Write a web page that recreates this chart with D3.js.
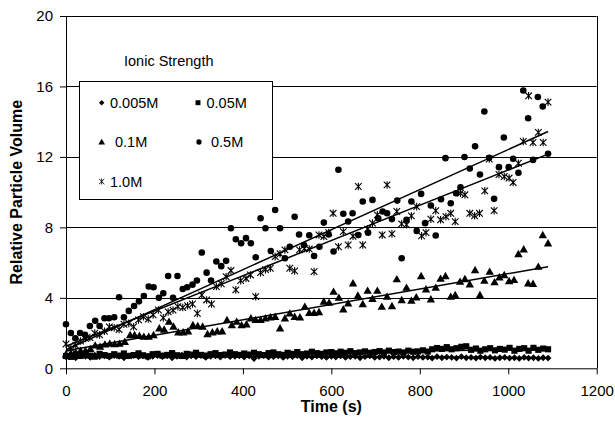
<!DOCTYPE html>
<html>
<head>
<meta charset="utf-8">
<script src="https://cdn.jsdelivr.net/npm/d3@7"></script>
<style>
  body { margin: 0; background: #fff; }
  text { font-family: Arial, "Liberation Sans", sans-serif; fill: #000; }
</style>
</head>
<body>
<script>
// sampling times for the two low ionic strength runs (s)
const gridTime = [0,11,22,33,44,55,65,76,87,98,109,120,131,142,153,164,174,185,196,207,
  218,229,240,251,262,273,283,294,305,316,327,338,349,360,371,382,392,403,414,425,
  436,447,458,469,480,491,501,512,523,534,545,556,567,578,589,600,610,621,632,643,
  654,665,676,687,698,709,719,730,741,752,763,774,785,796,807,818,828,839,850,861,
  872,883,894,905,916,927,937,948,959,970,981,992,1003,1014,1025,1036,1046,1057,1068,1079,1090];

const vol005 = [0.65,0.7,0.6,0.72,0.68,0.62,0.74,0.66,0.7,0.64,0.72,0.68,0.6,0.7,0.74,0.66,0.7,0.62,0.68,
  0.72,0.66,0.7,0.6,0.68,0.74,0.64,0.7,0.66,0.72,0.62,0.68,0.7,0.64,0.72,0.66,0.68,0.7,
  0.64,0.7,0.55,0.68,0.72,0.64,0.66,0.7,0.62,0.68,0.66,0.72,0.6,0.68,0.64,0.7,0.66,0.62,
  0.68,0.64,0.7,0.62,0.66,0.68,0.6,0.66,0.7,0.62,0.64,0.68,0.6,0.66,0.62,0.68,0.64,0.6,
  0.66,0.62,0.64,0.58,0.66,0.6,0.64,0.62,0.58,0.66,0.6,0.62,0.58,0.64,0.6,0.62,0.56,0.6,
  0.62,0.58,0.6,0.56,0.62,0.58,0.6,0.56,0.6,0.58];

const vol05 = [0.7,0.65,0.78,0.7,0.82,0.72,0.66,0.82,0.75,0.7,0.8,0.72,0.84,0.7,0.75,0.85,0.74,0.68,0.8,
  0.82,0.72,0.76,0.86,0.74,0.7,0.82,0.78,0.88,0.76,0.72,0.8,0.86,0.75,0.78,0.9,0.8,0.76,
  0.84,0.78,0.88,0.8,0.75,0.86,0.9,0.8,0.76,0.88,0.82,0.92,0.8,0.84,0.94,0.86,0.82,0.9,
  0.92,0.85,0.94,0.88,0.97,0.86,0.9,0.96,0.88,0.92,0.98,0.9,1.0,0.92,0.95,0.9,1.0,0.94,
  0.96,1.02,0.95,1.08,1.15,1.1,1.2,1.08,1.14,1.22,1.25,1.05,1.12,1.0,1.08,1.14,1.02,1.1,
  1.06,1.16,1.0,1.1,1.14,1.0,1.16,1.05,1.12,1.08];

const time1 = [0,11,22,33,44,55,66,77,88,99,110,121,133,145,155,166,176,187,198,211,
  222,233,243,254,265,276,287,298,309,320,331,342,353,364,375,386,397,408,418,429,
  440,451,462,473,484,495,506,517,529,540,550,561,572,583,595,605,617,627,638,649,
  660,671,682,693,704,714,726,737,748,759,770,781,792,803,814,825,836,847,858,870,
  880,891,902,913,925,936,946,958,969,980,991,1002,1013,1023,1035,1045,1056,1068,1078,1090];
const vol1 = [0.8,0.85,0.9,1.0,1.0,1.1,1.3,1.23,1.36,1.4, 1.38,1.4,1.51,1.89,1.89,1.85,1.8,1.8,1.89,2.27,
  2.2,2.65,2.37,2.05,2.05,2.1,2.46,2.4,2.37,1.95, 2.05,2.1,2.1,2.74,2.45,2.65,2.45,2.5,2.84,2.75,
  2.75,2.84,2.9,2.93,2.27,2.84,3.12,2.93,2.9,3.5, 3.15,3.15,3.2,3.79,3.73,4.35,4.01,3.35,3.69,4.83,
  4.13,3.65,4.41,3.95,4.41,3.5,4.07,3.54,5.06,3.88, 4.58,3.84,4.03,5.24,4.49,3.92,4.58,5.09,5.24,4.07,
  4.16,4.92,5.07,4.77,5.58,4.16,4.98,5.49,4.89,5.17, 5.3,4.96,5.02,6.49,6.76,4.83,4.8,5.77,7.57,7.1];

const time5 = [0,11,21,32,43,54,66,76,87,97,109,120,131,142,154,165,176,187,198,210,
  220,231,242,252,264,274,286,296,307,318,328,340,351,362,373,384,396,407,418,429,
  440,451,463,473,484,495,506,517,527,538,550,561,573,583,594,605,616,627,638,648,
  661,671,683,693,706,716,726,737,749,759,770,781,793,803,812,825,836,848,858,870,
  882,892,901,913,925,936,946,957,968,979,990,1001,1011,1023,1034,1045,1056,1067,1078,1090];
const vol5 = [2.5,2.0,1.7,2.0,1.9,2.4,2.7,2.4,2.84,2.84, 2.9,4.03,2.9,3.26,3.54,3.8,4.1,4.64,4.6,4.0,
  4.26,5.24,4.0,5.24,4.5,4.6,4.75,4.98,6.57,5.43, 4.98,6.06,5.8,6.1,7.95,7.33,7.1,7.39,7.1,6.3,
  8.52,7.95,6.66,8.99,7.95,6.25,6.9,8.6,7.6,7.0, 7.55,6.38,6.9,8.27,7.6,6.63,11.27,8.77,8.33,8.8,
  7.57,9.47,7.7,9.56,8.52,8.9,8.8,8.47,9.52,6.25, 8.43,9.47,7.8,9.9,8.24,9.24,7.54,9.6,11.93,9.37,
  9.94,10.28,12.0,11.34,12.6,11.0,14.58,11.95,9.62,11.42, 13.1,11.42,11.9,11.1,15.77,14.2,11.83,15.4,14.86,12.18];

const time10 = [0,11,22,33,44,54,65,76,87,98,109,120,131,142,153,164,175,186,197,209,
  220,231,242,253,264,275,286,297,307,318,329,340,351,362,373,384,395,407,417,429,
  440,451,462,473,484,495,506,517,528,539,550,561,572,583,594,604,616,627,638,649,
  661,671,682,693,704,715,726,737,748,759,770,781,793,804,814,825,836,847,859,870,
  880,892,902,913,924,935,947,957,968,979,991,1002,1011,1023,1034,1046,1056,1068,1079,1090];
const vol10 = [1.38,1.14,1.3,1.55,1.7,1.75,2.0,1.9,2.1,2.35, 2.3,2.2,2.5,2.55,2.36,2.75,2.93,2.8,3.03,3.31,
  2.86,3.2,3.3,3.5,3.45,3.55,3.65,3.12,4.16,3.88, 3.65,4.64,4.8,5.2,5.55,4.45,4.98,5.1,5.3,4.07,
  5.43,5.6,5.68,6.34,6.5,6.72,5.68,5.53,6.72,6.8, 6.77,5.49,7.57,7.48,7.7,8.8,6.9,7.76,7.0,7.5,
  10.32,7.0,7.9,8.24,8.71,7.57,10.41,7.63,8.9,8.2, 8.15,8.65,9.18,7.52,7.7,8.47,8.95,8.43,8.61,8.8,
  8.33,9.94,9.85,8.8,8.66,8.8,10.07,11.88,8.95,11.0, 10.89,10.8,10.55,11.64,12.88,15.47,12.82,13.39,12.82,15.11];

// linear trendlines, value at first and last time
const trendTime = [0, 1090];
const trendStart = [0.68, 0.72, 1.0, 1.25, 1.05];
const trendEnd = [0.6, 1.08, 5.77, 12.16, 13.44];

const seriesNames = ["0.005M", "0.05M", "0.1M", "0.5M", "1.0M"];
const xTicks = [0, 200, 400, 600, 800, 1000, 1200];
const yTicks = [0, 4, 8, 12, 16, 20];

let width = 615, height = 421;
let margin = { top: 16, right: 18.3, bottom: 52.7, left: 66 };

let svg = d3.select("body").append("svg")
  .attr("width", width)
  .attr("height", height);

const xScale = d3.scaleLinear().domain([0, 1200]).range([margin.left, width - margin.right]);
const yScale = d3.scaleLinear().domain([0, 20]).range([height - margin.bottom, margin.top]);

// markers
const r = 3.4;
const markerPath = {
  diamond: `M0,${-r}L${r},0L0,${r}L${-r},0Z`,
  square: d3.symbol(d3.symbolSquare, 38)(),
  triangle: `M0,-4.2L4.2,3.2L-4.2,3.2Z`,
  circle: d3.symbol(d3.symbolCircle, 34)(),
  star: "M-3.3,-3.3L3.3,3.3M-3.3,3.3L3.3,-3.3M0,-3.8L0,3.8"
};

const series = [
  { name: seriesNames[0], t: gridTime, v: vol005, marker: "diamond" },
  { name: seriesNames[1], t: gridTime, v: vol05, marker: "square" },
  { name: seriesNames[2], t: time1, v: vol1, marker: "triangle" },
  { name: seriesNames[3], t: time5, v: vol5, marker: "circle" },
  { name: seriesNames[4], t: time10, v: vol10, marker: "star" }
];

// gridlines
svg.append("g")
  .selectAll("line")
  .data(yTicks.filter(d => d > 0))
  .enter()
  .append("line")
  .attr("x1", margin.left)
  .attr("x2", width - margin.right)
  .attr("y1", d => Math.round(yScale(d)) + 0.5)
  .attr("y2", d => Math.round(yScale(d)) + 0.5)
  .attr("stroke", "#000")
  .attr("stroke-width", 1);

// right border
svg.append("line")
  .attr("x1", Math.round(xScale(1200)) + 0.5).attr("x2", Math.round(xScale(1200)) + 0.5)
  .attr("y1", yScale(20)).attr("y2", yScale(0))
  .attr("stroke", "#000");

// legend box
svg.append("rect")
  .attr("x", 79.5).attr("y", 81.5)
  .attr("width", 193).attr("height", 118)
  .attr("fill", "#fff")
  .attr("stroke", "#000");

// axes
svg.append("g")
  .attr("transform", `translate(${margin.left},0)`)
  .call(d3.axisLeft(yScale).tickValues(yTicks).tickSize(6).tickSizeOuter(0).tickPadding(7))
  .call(g => g.selectAll("text").style("font-size", "15px").attr("fill", "#000"))
  .call(g => g.selectAll("line,path").attr("stroke", "#000"));

svg.append("g")
  .attr("transform", `translate(0,${height - margin.bottom})`)
  .call(d3.axisBottom(xScale).tickValues(xTicks).tickFormat(d3.format("d"))
    .tickSize(6).tickSizeOuter(0).tickPadding(11))
  .call(g => g.selectAll("text").style("font-size", "15px").attr("fill", "#000"))
  .call(g => g.selectAll("line,path").attr("stroke", "#000"));

// trendlines
series.forEach(function(s, i) {
  svg.append("line")
    .attr("x1", xScale(trendTime[0])).attr("y1", yScale(trendStart[i]))
    .attr("x2", xScale(trendTime[1])).attr("y2", yScale(trendEnd[i]))
    .attr("stroke", "#000")
    .attr("stroke-width", 1.5);
});

// points
series.forEach(function(s) {
  svg.append("g")
    .selectAll("path")
    .data(s.t.map((t, j) => [t, s.v[j]]))
    .enter()
    .append("path")
    .attr("transform", d => `translate(${xScale(d[0])},${yScale(d[1])})`)
    .attr("d", markerPath[s.marker])
    .attr("fill", s.marker === "star" ? "none" : "#000")
    .attr("stroke", s.marker === "star" ? "#000" : "none")
    .attr("stroke-width", 1.1);
});

// legend contents
svg.append("text")
  .attr("x", 124).attr("y", 66)
  .style("font-size", "14.5px")
  .text("Ionic Strength");

const legendPos = [
  { mx: 101.7, my: 102.7, tx: 110, ty: 107.5 },
  { mx: 198, my: 102.7, tx: 206.5, ty: 107.5 },
  { mx: 101.7, my: 142, tx: 115, ty: 147 },
  { mx: 199, my: 142, tx: 211, ty: 147 },
  { mx: 101.7, my: 181.5, tx: 110, ty: 186.5 }
];

series.forEach(function(s, i) {
  const p = legendPos[i];
  svg.append("path")
    .attr("transform", `translate(${p.mx},${p.my}) scale(0.8)`)
    .attr("d", markerPath[s.marker])
    .attr("fill", s.marker === "star" ? "none" : "#000")
    .attr("stroke", s.marker === "star" ? "#000" : "none")
    .attr("stroke-width", 1.1);
  svg.append("text")
    .attr("x", p.tx).attr("y", p.ty)
    .style("font-size", "14.5px")
    .text(s.name);
});

// axis titles
svg.append("text")
  .attr("transform", `translate(${(xScale(0) + xScale(1200)) / 2},412)`)
  .style("text-anchor", "middle")
  .style("font-size", "16px")
  .style("font-weight", "bold")
  .text("Time (s)");

svg.append("text")
  .attr("transform", `translate(22,${(yScale(0) + yScale(20)) / 2})rotate(-90)`)
  .style("text-anchor", "middle")
  .style("font-size", "16px")
  .style("font-weight", "bold")
  .text("Relative Particle Volume");
</script>
</body>
</html>
